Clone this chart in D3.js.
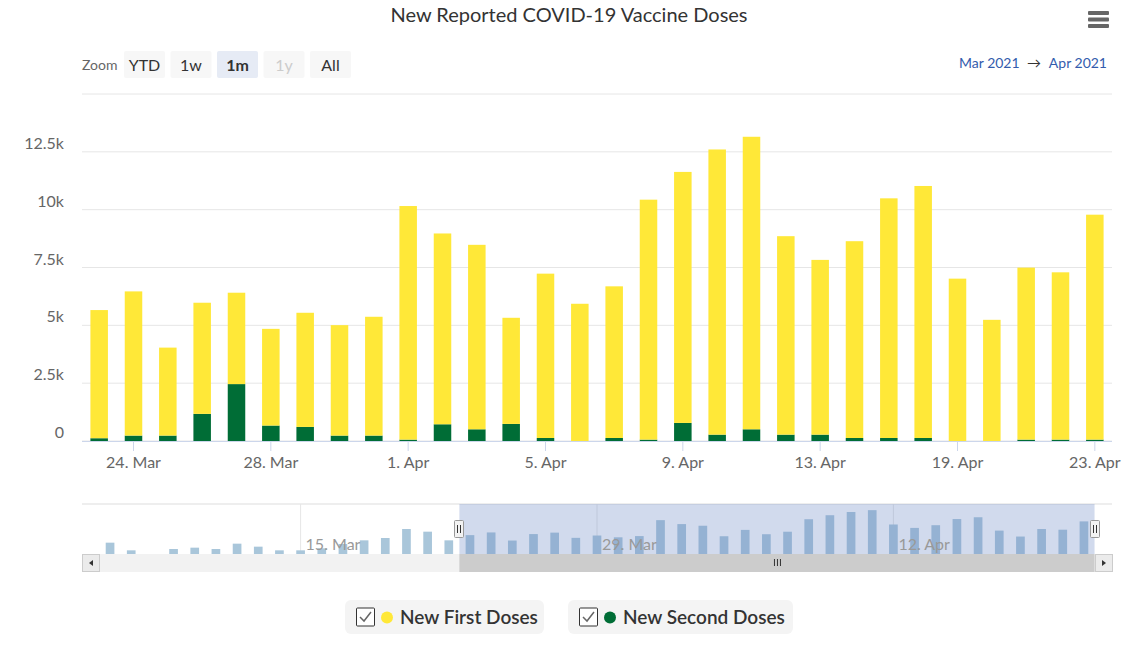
<!DOCTYPE html>
<html>
<head>
<meta charset="utf-8">
<script src="https://cdn.jsdelivr.net/npm/d3@7"></script>
<style>
  body { margin: 0; background: #fff; }
  svg { font-family: Lato, "Source Sans Pro", sans-serif; }
</style>
</head>
<body>
<svg id="chart" width="1143" height="645"></svg>
<script>
// data
const dates = ['2021-03-23','2021-03-24','2021-03-25','2021-03-26','2021-03-27','2021-03-28','2021-03-29','2021-03-30','2021-03-31',
  '2021-04-01','2021-04-02','2021-04-03','2021-04-04','2021-04-05','2021-04-06','2021-04-07','2021-04-08','2021-04-09','2021-04-10',
  '2021-04-11','2021-04-12','2021-04-13','2021-04-14','2021-04-15','2021-04-16','2021-04-19','2021-04-20','2021-04-21','2021-04-22','2021-04-23'];
const firstDoses = [5540, 6233, 3803, 4805, 3950, 4180, 4935, 4774, 5136,
  10097, 8248, 7974, 4588, 7104, 5932, 6556, 10372, 10851, 12327,
  12645, 8579, 7554, 8507, 10360, 10894, 7018, 5238, 7435, 7232, 9723];
const secondDoses = [120, 234, 234, 1172, 2460, 668, 608, 234, 234,
  60, 723, 506, 738, 130, 0, 130, 60, 781, 275,
  506, 275, 275, 130, 130, 130, 0, 0, 60, 60, 60];
// navigator shows earlier days too
const navEarlyDates = ['2021-03-06','2021-03-07','2021-03-08','2021-03-09','2021-03-10','2021-03-11','2021-03-12','2021-03-13',
  '2021-03-14','2021-03-15','2021-03-16','2021-03-17','2021-03-18','2021-03-19','2021-03-20','2021-03-21','2021-03-22'];
const navEarlyTotals = [3400, 1100, 0, 1500, 1900, 1500, 3100, 2200, 1100, 1100, 1700, 3000, 4100, 4800, 7500, 6700, 4100];

const yTicks = [0, 2500, 5000, 7500, 10000, 12500, 15000];
const xTickDates = ['2021-03-24','2021-03-28','2021-04-01','2021-04-05','2021-04-09','2021-04-13','2021-04-19','2021-04-23'];
const navTickDates = ['2021-03-15','2021-03-29','2021-04-12'];
const zoomButtons = ['YTD', '1w', '1m', '1y', 'All'];
const seriesNames = ['New First Doses', 'New Second Doses'];
const seriesColors = ['#ffe838', '#006d36'];

const svg = d3.select('#chart');
const parse = d3.timeParse('%Y-%m-%d');
const fmtTick = d3.timeFormat('%-d. %b');

const plot = {left: 82, right: 1112, top: 94, bottom: 441};

// title
svg.append('text')
  .attr('x', 569).attr('y', 22)
  .attr('text-anchor', 'middle')
  .style('font-size', '20px').attr('fill', '#333')
  .text('New Reported COVID-19 Vaccine Doses');

// menu icon
svg.append('g').selectAll('rect')
  .data([0, 1, 2])
  .join('rect')
  .attr('x', 1088).attr('y', d => 11 + d * 6.5)
  .attr('width', 21).attr('height', 4).attr('rx', 1)
  .attr('fill', '#666');

// range selector
svg.append('text')
  .attr('x', 82).attr('y', 70)
  .style('font-size', '14px').attr('fill', '#666')
  .text('Zoom');

let btns = svg.append('g').selectAll('g')
  .data(zoomButtons)
  .join('g')
  .attr('transform', (d, i) => `translate(${124 + i * 46.5},51)`);
btns.append('rect')
  .attr('width', 41).attr('height', 27).attr('rx', 2)
  .attr('fill', d => d === '1m' ? '#e6ebf5' : '#f7f7f7');
btns.append('text')
  .attr('x', 20.5).attr('y', 19.5)
  .attr('text-anchor', 'middle')
  .style('font-size', '16px')
  .style('font-weight', d => d === '1m' ? 'bold' : 'normal')
  .attr('fill', d => d === '1y' ? '#ccc' : '#333')
  .text(d => d);

let range = svg.append('g').style('font-size', '14px').attr('fill', '#335cad');
range.append('text').attr('x', 959).attr('y', 68).text('Mar 2021');
range.append('text').attr('x', 1034).attr('y', 68).attr('text-anchor', 'middle').attr('fill', '#333').text('\u2192');
range.append('text').attr('x', 1107).attr('y', 68).attr('text-anchor', 'end').text('Apr 2021');

// main chart scales
const x = d3.scaleBand()
  .domain(dates)
  .range([plot.left, plot.right])
  .paddingInner(0.49)
  .paddingOuter(0.245);

const y = d3.scaleLinear()
  .domain([0, 15000])
  .range([plot.bottom, plot.top]);

// grid
svg.append('g').selectAll('line')
  .data(yTicks)
  .join('line')
  .attr('x1', plot.left).attr('x2', plot.right)
  .attr('y1', d => y(d)).attr('y2', d => y(d))
  .attr('stroke', '#e6e6e6');

svg.append('g').selectAll('text')
  .data(yTicks.filter(d => d < 15000))
  .join('text')
  .attr('x', 64).attr('y', d => y(d) - 3)
  .attr('text-anchor', 'end')
  .style('font-size', '16px').attr('fill', '#666')
  .text(d => d === 0 ? '0' : (d / 1000) + 'k');

// stacked bars
const rows = dates.map((d, i) => ({date: d, first: firstDoses[i], second: secondDoses[i]}));
const stacked = d3.stack().keys(['second', 'first'])(rows);
const colorOf = {first: seriesColors[0], second: seriesColors[1]};

svg.append('g').selectAll('g')
  .data(stacked)
  .join('g')
  .attr('fill', s => colorOf[s.key])
  .selectAll('rect')
  .data(s => s)
  .join('rect')
  .attr('x', d => x(d.data.date))
  .attr('width', x.bandwidth())
  .attr('y', d => y(d[1]))
  .attr('height', d => Math.max(0, y(d[0]) - y(d[1])));

// x axis
let xAxis = svg.append('g')
  .attr('transform', `translate(0,${plot.bottom})`)
  .call(d3.axisBottom(x).tickValues(xTickDates).tickSize(10).tickPadding(6).tickFormat(d => fmtTick(parse(d))));
xAxis.select('.domain').attr('stroke', '#ccd6eb').attr('d', `M${plot.left},0.5H${plot.right}`);
xAxis.selectAll('.tick line').attr('stroke', '#ccd6eb');
xAxis.selectAll('.tick text').style('font-size', '16px').style('font-family', 'Lato, sans-serif').attr('fill', '#666');

// navigator
const nav = {top: 504, bottom: 554};
const navDates = navEarlyDates.concat(dates);
const navValues = navEarlyTotals.concat(dates.map((d, i) => firstDoses[i] + secondDoses[i]));

const nx = d3.scaleBand()
  .domain(navDates)
  .range([plot.left, plot.right])
  .paddingInner(0.59)
  .paddingOuter(1.12);
const ny = d3.scaleLinear().domain([0, 15000]).range([nav.bottom, nav.top]);

svg.append('line')
  .attr('x1', plot.left).attr('x2', plot.right)
  .attr('y1', nav.top).attr('y2', nav.top)
  .attr('stroke', '#ddd');

let navGrid = svg.append('g').selectAll('line')
  .data(navTickDates)
  .join('line')
  .attr('x1', d => nx(d) + nx.bandwidth() / 2).attr('x2', d => nx(d) + nx.bandwidth() / 2)
  .attr('y1', nav.top).attr('y2', nav.bottom)
  .attr('stroke', '#e6e6e6');

svg.append('g').selectAll('rect')
  .data(navDates.map((d, i) => ({date: d, v: navValues[i]})))
  .join('rect')
  .attr('x', d => nx(d.date))
  .attr('width', nx.bandwidth())
  .attr('y', d => ny(d.v))
  .attr('height', d => nav.bottom - ny(d.v))
  .attr('fill', '#a9c6da');

const selX0 = nx(dates[0]) + nx.bandwidth() / 2 - nx.step() / 2;
const selX1 = nx(dates[dates.length - 1]) + nx.bandwidth() / 2 + nx.step() / 2;

svg.append('rect')
  .attr('x', selX0).attr('y', nav.top)
  .attr('width', selX1 - selX0).attr('height', nav.bottom - nav.top)
  .attr('fill', 'rgba(102,133,194,0.3)');

// navigator labels sit on top of the bars
svg.append('g').selectAll('text')
  .data(navTickDates)
  .join('text')
  .attr('x', d => nx(d) + nx.bandwidth() / 2 + 5).attr('y', 550)
  .style('font-size', '16px').attr('fill', '#999')
  .text(d => fmtTick(parse(d)));

// scrollbar
svg.append('rect')
  .attr('x', plot.left).attr('y', 554).attr('width', plot.right - plot.left).attr('height', 18)
  .attr('fill', '#f2f2f2');
svg.append('rect')
  .attr('x', selX0).attr('y', 554).attr('width', selX1 - selX0).attr('height', 18)
  .attr('fill', '#cccccc');
svg.append('g').selectAll('line')
  .data([-3, 0, 3])
  .join('line')
  .attr('x1', d => (selX0 + selX1) / 2 + d + 0.5).attr('x2', d => (selX0 + selX1) / 2 + d + 0.5)
  .attr('y1', 559).attr('y2', 566)
  .attr('stroke', '#333');

[[plot.left, -1], [plot.right - 17, 1]].forEach(([bx, dir]) => {
  svg.append('rect')
    .attr('x', bx + 0.5).attr('y', 554.5).attr('width', 17).attr('height', 17)
    .attr('fill', '#ebebeb').attr('stroke', '#ccc');
  let cx = bx + 9, cy = 563;
  svg.append('path')
    .attr('d', `M${cx + dir * 2},${cy} L${cx - dir * 2},${cy - 3} L${cx - dir * 2},${cy + 3} Z`)
    .attr('fill', '#333');
});

// handles
[selX0, selX1].forEach(hx => {
  let h = svg.append('g').attr('transform', `translate(${Math.round(hx)},520)`);
  h.append('rect')
    .attr('x', -4.5).attr('y', 0.5).attr('width', 9).attr('height', 17).attr('rx', 1)
    .attr('fill', '#f2f2f2').attr('stroke', '#999');
  h.append('path')
    .attr('d', 'M-1.5,5V13M1.5,5V13')
    .attr('stroke', '#333');
});

// legend
const legendItems = [
  {name: seriesNames[0], color: seriesColors[0], x: 345, w: 199},
  {name: seriesNames[1], color: seriesColors[1], x: 568, w: 225}
];
let leg = svg.append('g').selectAll('g')
  .data(legendItems)
  .join('g')
  .attr('transform', d => `translate(${d.x},600)`);
leg.append('rect')
  .attr('width', d => d.w).attr('height', 34).attr('rx', 6)
  .attr('fill', '#f4f4f4');
leg.append('rect')
  .attr('x', 11.5).attr('y', 8).attr('width', 18).attr('height', 18).attr('rx', 1)
  .attr('fill', '#fff').attr('stroke', '#333');
leg.append('path')
  .attr('d', 'M15,17 L19,21 L26,12')
  .attr('fill', 'none').attr('stroke', '#666').attr('stroke-width', 1.5);
leg.append('circle')
  .attr('cx', 42).attr('cy', 17.5).attr('r', 6)
  .attr('fill', d => d.color);
leg.append('text')
  .attr('x', 55).attr('y', 24)
  .style('font-size', '19px').style('font-weight', 600)
  .attr('fill', '#333')
  .text(d => d.name);
</script>
</body>
</html>
